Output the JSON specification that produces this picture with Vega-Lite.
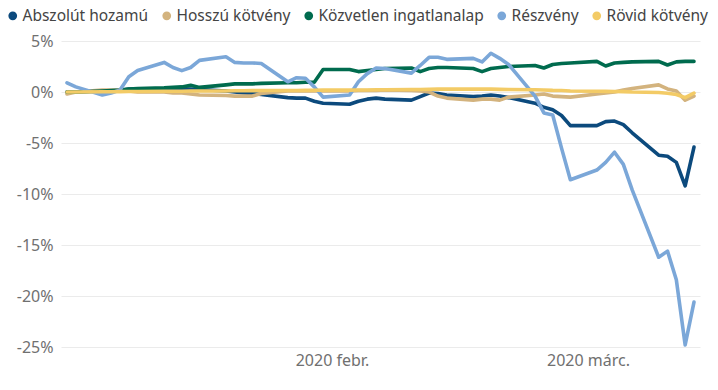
{
  "$schema": "https://vega.github.io/schema/vega-lite/v6.json",
  "width": 639,
  "height": 306,
  "autosize": {"type": "none"},
  "padding": {"left": 61, "top": 41, "right": 18, "bottom": 43},
  "config": {
    "view": {"stroke": null},
    "font": "Noto Sans",
    "axis": {"labelFont": "Noto Sans", "labelFontSize": 16, "labelColor": "#707070", "domain": false, "ticks": false}
  },
  "datasets": {
    "rows": [
      {"d":"2020-01-02","s":"Abszolút hozamú","v":0.0},{"d":"2020-01-03","s":"Abszolút hozamú","v":0.0},{"d":"2020-01-06","s":"Abszolút hozamú","v":0.1},{"d":"2020-01-07","s":"Abszolút hozamú","v":0.1},{"d":"2020-01-08","s":"Abszolút hozamú","v":0.15},{"d":"2020-01-09","s":"Abszolút hozamú","v":0.3},{"d":"2020-01-10","s":"Abszolút hozamú","v":0.3},{"d":"2020-01-13","s":"Abszolút hozamú","v":0.3},{"d":"2020-01-14","s":"Abszolút hozamú","v":0.3},{"d":"2020-01-15","s":"Abszolút hozamú","v":0.3},{"d":"2020-01-16","s":"Abszolút hozamú","v":0.3},{"d":"2020-01-17","s":"Abszolút hozamú","v":0.25},{"d":"2020-01-20","s":"Abszolút hozamú","v":0.1},{"d":"2020-01-21","s":"Abszolút hozamú","v":0.0},{"d":"2020-01-22","s":"Abszolút hozamú","v":-0.1},{"d":"2020-01-23","s":"Abszolút hozamú","v":-0.15},{"d":"2020-01-24","s":"Abszolút hozamú","v":-0.25},{"d":"2020-01-27","s":"Abszolút hozamú","v":-0.55},{"d":"2020-01-28","s":"Abszolút hozamú","v":-0.6},{"d":"2020-01-29","s":"Abszolút hozamú","v":-0.6},{"d":"2020-01-30","s":"Abszolút hozamú","v":-0.9},{"d":"2020-01-31","s":"Abszolút hozamú","v":-1.1},{"d":"2020-02-03","s":"Abszolút hozamú","v":-1.2},{"d":"2020-02-04","s":"Abszolút hozamú","v":-0.9},{"d":"2020-02-05","s":"Abszolút hozamú","v":-0.7},{"d":"2020-02-06","s":"Abszolút hozamú","v":-0.6},{"d":"2020-02-07","s":"Abszolút hozamú","v":-0.7},{"d":"2020-02-10","s":"Abszolút hozamú","v":-0.8},{"d":"2020-02-11","s":"Abszolút hozamú","v":-0.45},{"d":"2020-02-12","s":"Abszolút hozamú","v":-0.1},{"d":"2020-02-13","s":"Abszolút hozamú","v":-0.15},{"d":"2020-02-14","s":"Abszolút hozamú","v":-0.3},{"d":"2020-02-17","s":"Abszolút hozamú","v":-0.45},{"d":"2020-02-18","s":"Abszolút hozamú","v":-0.4},{"d":"2020-02-19","s":"Abszolút hozamú","v":-0.3},{"d":"2020-02-20","s":"Abszolút hozamú","v":-0.4},{"d":"2020-02-21","s":"Abszolút hozamú","v":-0.55},{"d":"2020-02-24","s":"Abszolút hozamú","v":-1.1},{"d":"2020-02-25","s":"Abszolút hozamú","v":-1.5},{"d":"2020-02-26","s":"Abszolút hozamú","v":-1.75},{"d":"2020-02-27","s":"Abszolút hozamú","v":-2.3},{"d":"2020-02-28","s":"Abszolút hozamú","v":-3.3},{"d":"2020-03-02","s":"Abszolút hozamú","v":-3.3},{"d":"2020-03-03","s":"Abszolút hozamú","v":-2.9},{"d":"2020-03-04","s":"Abszolút hozamú","v":-2.85},{"d":"2020-03-05","s":"Abszolút hozamú","v":-3.2},{"d":"2020-03-06","s":"Abszolút hozamú","v":-4.0},{"d":"2020-03-09","s":"Abszolút hozamú","v":-6.2},{"d":"2020-03-10","s":"Abszolút hozamú","v":-6.3},{"d":"2020-03-11","s":"Abszolút hozamú","v":-6.9},{"d":"2020-03-12","s":"Abszolút hozamú","v":-9.2},{"d":"2020-03-13","s":"Abszolút hozamú","v":-5.4},
      {"d":"2020-01-02","s":"Hosszú kötvény","v":-0.2},{"d":"2020-01-03","s":"Hosszú kötvény","v":0.0},{"d":"2020-01-06","s":"Hosszú kötvény","v":0.2},{"d":"2020-01-07","s":"Hosszú kötvény","v":0.2},{"d":"2020-01-08","s":"Hosszú kötvény","v":0.2},{"d":"2020-01-09","s":"Hosszú kötvény","v":0.1},{"d":"2020-01-10","s":"Hosszú kötvény","v":0.0},{"d":"2020-01-13","s":"Hosszú kötvény","v":0.0},{"d":"2020-01-14","s":"Hosszú kötvény","v":-0.1},{"d":"2020-01-15","s":"Hosszú kötvény","v":-0.1},{"d":"2020-01-16","s":"Hosszú kötvény","v":-0.2},{"d":"2020-01-17","s":"Hosszú kötvény","v":-0.3},{"d":"2020-01-20","s":"Hosszú kötvény","v":-0.35},{"d":"2020-01-21","s":"Hosszú kötvény","v":-0.4},{"d":"2020-01-22","s":"Hosszú kötvény","v":-0.4},{"d":"2020-01-23","s":"Hosszú kötvény","v":-0.4},{"d":"2020-01-24","s":"Hosszú kötvény","v":-0.15},{"d":"2020-01-27","s":"Hosszú kötvény","v":0.1},{"d":"2020-01-28","s":"Hosszú kötvény","v":0.1},{"d":"2020-01-29","s":"Hosszú kötvény","v":0.1},{"d":"2020-01-30","s":"Hosszú kötvény","v":0.1},{"d":"2020-01-31","s":"Hosszú kötvény","v":0.1},{"d":"2020-02-03","s":"Hosszú kötvény","v":0.1},{"d":"2020-02-04","s":"Hosszú kötvény","v":0.15},{"d":"2020-02-05","s":"Hosszú kötvény","v":0.15},{"d":"2020-02-06","s":"Hosszú kötvény","v":0.15},{"d":"2020-02-07","s":"Hosszú kötvény","v":0.2},{"d":"2020-02-10","s":"Hosszú kötvény","v":0.15},{"d":"2020-02-11","s":"Hosszú kötvény","v":0.1},{"d":"2020-02-12","s":"Hosszú kötvény","v":0.0},{"d":"2020-02-13","s":"Hosszú kötvény","v":-0.4},{"d":"2020-02-14","s":"Hosszú kötvény","v":-0.6},{"d":"2020-02-17","s":"Hosszú kötvény","v":-0.8},{"d":"2020-02-18","s":"Hosszú kötvény","v":-0.7},{"d":"2020-02-19","s":"Hosszú kötvény","v":-0.7},{"d":"2020-02-20","s":"Hosszú kötvény","v":-0.8},{"d":"2020-02-21","s":"Hosszú kötvény","v":-0.5},{"d":"2020-02-24","s":"Hosszú kötvény","v":-0.3},{"d":"2020-02-25","s":"Hosszú kötvény","v":-0.2},{"d":"2020-02-26","s":"Hosszú kötvény","v":-0.4},{"d":"2020-02-27","s":"Hosszú kötvény","v":-0.45},{"d":"2020-02-28","s":"Hosszú kötvény","v":-0.5},{"d":"2020-03-02","s":"Hosszú kötvény","v":-0.2},{"d":"2020-03-03","s":"Hosszú kötvény","v":-0.1},{"d":"2020-03-04","s":"Hosszú kötvény","v":0.0},{"d":"2020-03-05","s":"Hosszú kötvény","v":0.2},{"d":"2020-03-06","s":"Hosszú kötvény","v":0.35},{"d":"2020-03-09","s":"Hosszú kötvény","v":0.7},{"d":"2020-03-10","s":"Hosszú kötvény","v":0.3},{"d":"2020-03-11","s":"Hosszú kötvény","v":0.1},{"d":"2020-03-12","s":"Hosszú kötvény","v":-0.8},{"d":"2020-03-13","s":"Hosszú kötvény","v":-0.4},
      {"d":"2020-01-02","s":"Közvetlen ingatlanalap","v":0.0},{"d":"2020-01-03","s":"Közvetlen ingatlanalap","v":0.0},{"d":"2020-01-06","s":"Közvetlen ingatlanalap","v":0.1},{"d":"2020-01-07","s":"Közvetlen ingatlanalap","v":0.15},{"d":"2020-01-08","s":"Közvetlen ingatlanalap","v":0.2},{"d":"2020-01-09","s":"Közvetlen ingatlanalap","v":0.3},{"d":"2020-01-10","s":"Közvetlen ingatlanalap","v":0.35},{"d":"2020-01-13","s":"Közvetlen ingatlanalap","v":0.4},{"d":"2020-01-14","s":"Közvetlen ingatlanalap","v":0.45},{"d":"2020-01-15","s":"Közvetlen ingatlanalap","v":0.5},{"d":"2020-01-16","s":"Közvetlen ingatlanalap","v":0.65},{"d":"2020-01-17","s":"Közvetlen ingatlanalap","v":0.45},{"d":"2020-01-20","s":"Közvetlen ingatlanalap","v":0.7},{"d":"2020-01-21","s":"Közvetlen ingatlanalap","v":0.8},{"d":"2020-01-22","s":"Közvetlen ingatlanalap","v":0.8},{"d":"2020-01-23","s":"Közvetlen ingatlanalap","v":0.8},{"d":"2020-01-24","s":"Közvetlen ingatlanalap","v":0.85},{"d":"2020-01-27","s":"Közvetlen ingatlanalap","v":0.9},{"d":"2020-01-28","s":"Közvetlen ingatlanalap","v":0.9},{"d":"2020-01-29","s":"Közvetlen ingatlanalap","v":0.95},{"d":"2020-01-30","s":"Közvetlen ingatlanalap","v":0.95},{"d":"2020-01-31","s":"Közvetlen ingatlanalap","v":2.2},{"d":"2020-02-03","s":"Közvetlen ingatlanalap","v":2.2},{"d":"2020-02-04","s":"Közvetlen ingatlanalap","v":2.0},{"d":"2020-02-05","s":"Közvetlen ingatlanalap","v":2.1},{"d":"2020-02-06","s":"Közvetlen ingatlanalap","v":2.2},{"d":"2020-02-07","s":"Közvetlen ingatlanalap","v":2.3},{"d":"2020-02-10","s":"Közvetlen ingatlanalap","v":2.35},{"d":"2020-02-11","s":"Közvetlen ingatlanalap","v":2.0},{"d":"2020-02-12","s":"Közvetlen ingatlanalap","v":2.3},{"d":"2020-02-13","s":"Közvetlen ingatlanalap","v":2.4},{"d":"2020-02-14","s":"Közvetlen ingatlanalap","v":2.4},{"d":"2020-02-17","s":"Közvetlen ingatlanalap","v":2.3},{"d":"2020-02-18","s":"Közvetlen ingatlanalap","v":2.0},{"d":"2020-02-19","s":"Közvetlen ingatlanalap","v":2.3},{"d":"2020-02-20","s":"Közvetlen ingatlanalap","v":2.4},{"d":"2020-02-21","s":"Közvetlen ingatlanalap","v":2.5},{"d":"2020-02-24","s":"Közvetlen ingatlanalap","v":2.6},{"d":"2020-02-25","s":"Közvetlen ingatlanalap","v":2.35},{"d":"2020-02-26","s":"Közvetlen ingatlanalap","v":2.7},{"d":"2020-02-27","s":"Közvetlen ingatlanalap","v":2.8},{"d":"2020-02-28","s":"Közvetlen ingatlanalap","v":2.85},{"d":"2020-03-02","s":"Közvetlen ingatlanalap","v":3.0},{"d":"2020-03-03","s":"Közvetlen ingatlanalap","v":2.55},{"d":"2020-03-04","s":"Közvetlen ingatlanalap","v":2.85},{"d":"2020-03-05","s":"Közvetlen ingatlanalap","v":2.9},{"d":"2020-03-06","s":"Közvetlen ingatlanalap","v":2.95},{"d":"2020-03-09","s":"Közvetlen ingatlanalap","v":3.0},{"d":"2020-03-10","s":"Közvetlen ingatlanalap","v":2.65},{"d":"2020-03-11","s":"Közvetlen ingatlanalap","v":2.95},{"d":"2020-03-12","s":"Közvetlen ingatlanalap","v":3.0},{"d":"2020-03-13","s":"Közvetlen ingatlanalap","v":3.0},
      {"d":"2020-01-02","s":"Részvény","v":0.9},{"d":"2020-01-03","s":"Részvény","v":0.5},{"d":"2020-01-06","s":"Részvény","v":-0.3},{"d":"2020-01-07","s":"Részvény","v":-0.1},{"d":"2020-01-08","s":"Részvény","v":0.2},{"d":"2020-01-09","s":"Részvény","v":1.5},{"d":"2020-01-10","s":"Részvény","v":2.1},{"d":"2020-01-13","s":"Részvény","v":2.9},{"d":"2020-01-14","s":"Részvény","v":2.4},{"d":"2020-01-15","s":"Részvény","v":2.1},{"d":"2020-01-16","s":"Részvény","v":2.4},{"d":"2020-01-17","s":"Részvény","v":3.1},{"d":"2020-01-20","s":"Részvény","v":3.45},{"d":"2020-01-21","s":"Részvény","v":2.9},{"d":"2020-01-22","s":"Részvény","v":2.85},{"d":"2020-01-23","s":"Részvény","v":2.85},{"d":"2020-01-24","s":"Részvény","v":2.8},{"d":"2020-01-27","s":"Részvény","v":1.0},{"d":"2020-01-28","s":"Részvény","v":1.4},{"d":"2020-01-29","s":"Részvény","v":1.35},{"d":"2020-01-30","s":"Részvény","v":0.5},{"d":"2020-01-31","s":"Részvény","v":-0.5},{"d":"2020-02-03","s":"Részvény","v":-0.3},{"d":"2020-02-04","s":"Részvény","v":1.0},{"d":"2020-02-05","s":"Részvény","v":1.8},{"d":"2020-02-06","s":"Részvény","v":2.35},{"d":"2020-02-07","s":"Részvény","v":2.3},{"d":"2020-02-10","s":"Részvény","v":1.85},{"d":"2020-02-11","s":"Részvény","v":2.6},{"d":"2020-02-12","s":"Részvény","v":3.4},{"d":"2020-02-13","s":"Részvény","v":3.4},{"d":"2020-02-14","s":"Részvény","v":3.2},{"d":"2020-02-17","s":"Részvény","v":3.3},{"d":"2020-02-18","s":"Részvény","v":2.95},{"d":"2020-02-19","s":"Részvény","v":3.8},{"d":"2020-02-20","s":"Részvény","v":3.3},{"d":"2020-02-21","s":"Részvény","v":2.7},{"d":"2020-02-24","s":"Részvény","v":-0.4},{"d":"2020-02-25","s":"Részvény","v":-2.05},{"d":"2020-02-26","s":"Részvény","v":-2.25},{"d":"2020-02-27","s":"Részvény","v":-5.5},{"d":"2020-02-28","s":"Részvény","v":-8.6},{"d":"2020-03-02","s":"Részvény","v":-7.65},{"d":"2020-03-03","s":"Részvény","v":-6.9},{"d":"2020-03-04","s":"Részvény","v":-5.9},{"d":"2020-03-05","s":"Részvény","v":-7.1},{"d":"2020-03-06","s":"Részvény","v":-9.6},{"d":"2020-03-09","s":"Részvény","v":-16.2},{"d":"2020-03-10","s":"Részvény","v":-15.6},{"d":"2020-03-11","s":"Részvény","v":-18.4},{"d":"2020-03-12","s":"Részvény","v":-24.8},{"d":"2020-03-13","s":"Részvény","v":-20.6},
      {"d":"2020-01-02","s":"Rövid kötvény","v":0.0},{"d":"2020-01-03","s":"Rövid kötvény","v":0.0},{"d":"2020-01-06","s":"Rövid kötvény","v":0.02},{"d":"2020-01-07","s":"Rövid kötvény","v":0.03},{"d":"2020-01-08","s":"Rövid kötvény","v":0.04},{"d":"2020-01-09","s":"Rövid kötvény","v":0.05},{"d":"2020-01-10","s":"Rövid kötvény","v":0.05},{"d":"2020-01-13","s":"Rövid kötvény","v":0.07},{"d":"2020-01-14","s":"Rövid kötvény","v":0.08},{"d":"2020-01-15","s":"Rövid kötvény","v":0.08},{"d":"2020-01-16","s":"Rövid kötvény","v":0.1},{"d":"2020-01-17","s":"Rövid kötvény","v":0.1},{"d":"2020-01-20","s":"Rövid kötvény","v":0.1},{"d":"2020-01-21","s":"Rövid kötvény","v":0.12},{"d":"2020-01-22","s":"Rövid kötvény","v":0.12},{"d":"2020-01-23","s":"Rövid kötvény","v":0.13},{"d":"2020-01-24","s":"Rövid kötvény","v":0.14},{"d":"2020-01-27","s":"Rövid kötvény","v":0.15},{"d":"2020-01-28","s":"Rövid kötvény","v":0.15},{"d":"2020-01-29","s":"Rövid kötvény","v":0.16},{"d":"2020-01-30","s":"Rövid kötvény","v":0.17},{"d":"2020-01-31","s":"Rövid kötvény","v":0.18},{"d":"2020-02-03","s":"Rövid kötvény","v":0.18},{"d":"2020-02-04","s":"Rövid kötvény","v":0.2},{"d":"2020-02-05","s":"Rövid kötvény","v":0.2},{"d":"2020-02-06","s":"Rövid kötvény","v":0.22},{"d":"2020-02-07","s":"Rövid kötvény","v":0.22},{"d":"2020-02-10","s":"Rövid kötvény","v":0.24},{"d":"2020-02-11","s":"Rövid kötvény","v":0.25},{"d":"2020-02-12","s":"Rövid kötvény","v":0.27},{"d":"2020-02-13","s":"Rövid kötvény","v":0.28},{"d":"2020-02-14","s":"Rövid kötvény","v":0.28},{"d":"2020-02-17","s":"Rövid kötvény","v":0.3},{"d":"2020-02-18","s":"Rövid kötvény","v":0.28},{"d":"2020-02-19","s":"Rövid kötvény","v":0.28},{"d":"2020-02-20","s":"Rövid kötvény","v":0.26},{"d":"2020-02-21","s":"Rövid kötvény","v":0.25},{"d":"2020-02-24","s":"Rövid kötvény","v":0.22},{"d":"2020-02-25","s":"Rövid kötvény","v":0.2},{"d":"2020-02-26","s":"Rövid kötvény","v":0.16},{"d":"2020-02-27","s":"Rövid kötvény","v":0.14},{"d":"2020-02-28","s":"Rövid kötvény","v":0.1},{"d":"2020-03-02","s":"Rövid kötvény","v":0.08},{"d":"2020-03-03","s":"Rövid kötvény","v":0.06},{"d":"2020-03-04","s":"Rövid kötvény","v":0.05},{"d":"2020-03-05","s":"Rövid kötvény","v":0.04},{"d":"2020-03-06","s":"Rövid kötvény","v":0.0},{"d":"2020-03-09","s":"Rövid kötvény","v":-0.05},{"d":"2020-03-10","s":"Rövid kötvény","v":-0.12},{"d":"2020-03-11","s":"Rövid kötvény","v":-0.25},{"d":"2020-03-12","s":"Rövid kötvény","v":-0.55},{"d":"2020-03-13","s":"Rövid kötvény","v":-0.1}
    ]
  },
  "data": {"name": "rows"},
  "mark": {"type": "line", "strokeWidth": 3.6, "strokeJoin": "round", "strokeCap": "round"},
  "encoding": {
    "x": {
      "field": "d", "type": "temporal", "title": null,
      "scale": {"type": "utc", "domain": [{"year": 2020, "month": 1, "date": 1, "hours": 7, "minutes": 40, "utc": true}, {"year": 2020, "month": 3, "date": 13, "hours": 16, "minutes": 20, "utc": true}]},
      "axis": {
        "values": [{"year": 2020, "month": 2, "date": 1, "utc": true}, {"year": 2020, "month": 3, "date": 1, "utc": true}],
        "labelExpr": "utcmonth(datum.value) == 1 ? '2020 febr.' : '2020 márc.'",
        "grid": false, "labelPadding": 5, "labelFontSize": 16
      }
    },
    "y": {
      "field": "v", "type": "quantitative", "title": null,
      "scale": {"domain": [-25, 5], "nice": false, "zero": false},
      "axis": {
        "values": [-25, -20, -15, -10, -5, 0, 5],
        "labelExpr": "datum.value + '%'",
        "grid": true, "gridColor": "#ebebeb", "gridWidth": 1,
        "labelPadding": 8, "labelFontSize": 16
      }
    },
    "color": {
      "field": "s", "type": "nominal", "title": null,
      "sort": ["Abszolút hozamú", "Hosszú kötvény", "Közvetlen ingatlanalap", "Részvény", "Rövid kötvény"],
      "scale": {
        "domain": ["Abszolút hozamú", "Hosszú kötvény", "Közvetlen ingatlanalap", "Részvény", "Rövid kötvény"],
        "range": ["#0C4A7D", "#D3B37E", "#006B4E", "#7BA7D8", "#F3CB66"]
      },
      "legend": {
        "orient": "none", "legendX": -56, "legendY": -33,
        "direction": "horizontal", "columns": 5,
        "symbolType": "circle", "symbolSize": 18, "symbolStrokeWidth": 4.5,
        "labelFont": "Noto Sans", "labelFontSize": 15.5, "labelColor": "#444444",
        "labelLimit": 400, "labelOffset": 2, "columnPadding": 6
      }
    },
    "order": {"field": "d", "type": "temporal"}
  }
}
